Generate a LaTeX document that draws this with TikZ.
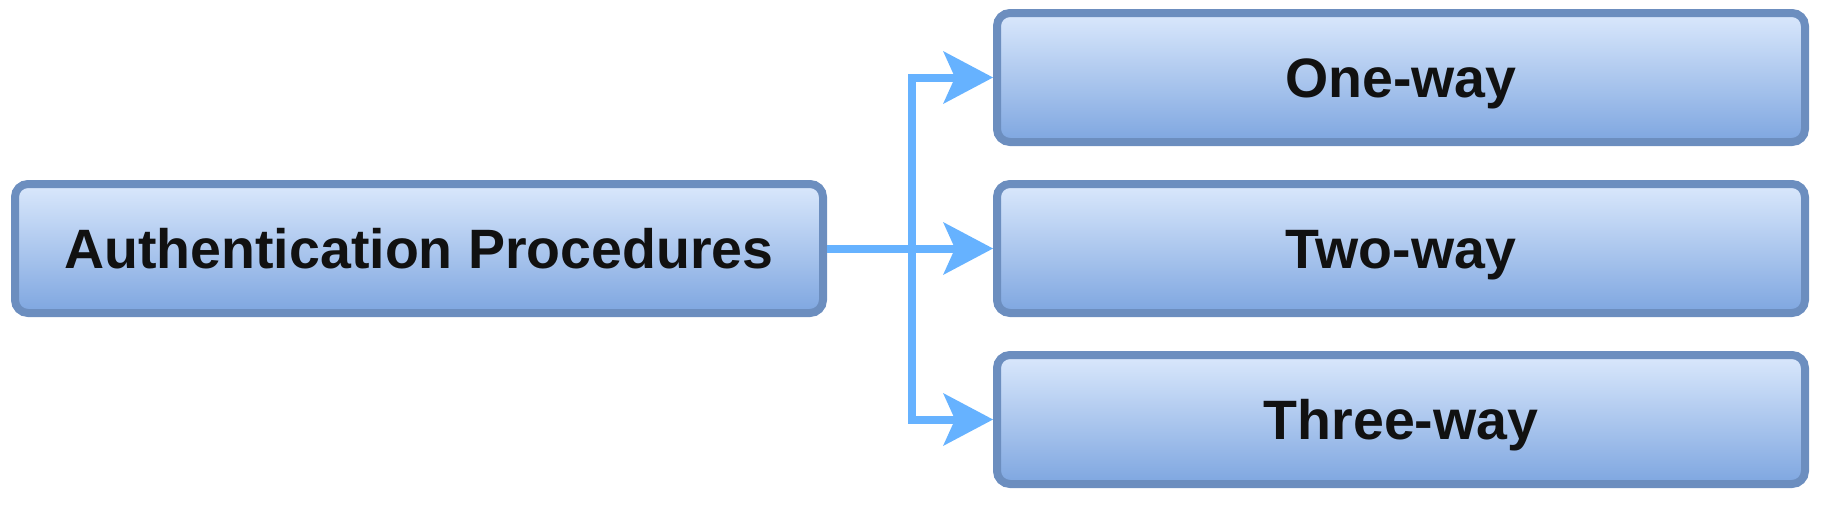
\documentclass[tikz,border=0pt]{standalone}
\usepackage{fontspec}
\setmainfont{Liberation Sans}
\definecolor{boxline}{HTML}{6C8EBF}
\definecolor{boxtop}{HTML}{DAE8FC}
\definecolor{boxbottom}{HTML}{7EA6E0}
\definecolor{linkblue}{HTML}{66B2FF}
\definecolor{labeltext}{HTML}{111111}
\begin{document}
\begin{tikzpicture}[x=1pt, y=-1pt,
        procbox/.style={rectangle, rounded corners=13pt, draw=boxline, line width=8pt,
            top color=boxtop, bottom color=boxbottom, minimum width=808pt, minimum height=129pt,
            inner sep=0pt, text height=39.4pt, text depth=0pt, text=labeltext,
            font=\fontsize{55.5}{66}\selectfont\bfseries},
        link/.style={draw=linkblue, line width=8pt},
        linkhead/.style={fill=linkblue, draw=none}]
        \useasboundingbox (0, 0) rectangle (1821, 507);
        \node[procbox] (auth) at (419, 248.5) {Authentication Procedures};
        \node[procbox] (one) at (1401, 77.5) {One-way};
        \node[procbox] (two) at (1401, 248.5) {Two-way};
        \node[procbox] (three) at (1401, 419.5) {Three-way};
        \coordinate (split) at (912, 248.5);
        \draw[link] (auth.east) -- ([xshift=-30pt]two.west);
        \draw[link] (split) |- ([xshift=-30pt]one.west);
        \draw[link] (split) |- ([xshift=-30pt]three.west);
        \fill[linkhead] (one.west) -- ++(-50, -26.5) -- ++(12, 26.5) -- ++(-12, 26.5) -- cycle;
        \fill[linkhead] (two.west) -- ++(-50, -26.5) -- ++(12, 26.5) -- ++(-12, 26.5) -- cycle;
        \fill[linkhead] (three.west) -- ++(-50, -26.5) -- ++(12, 26.5) -- ++(-12, 26.5) -- cycle;
    \end{tikzpicture}
\end{document}
